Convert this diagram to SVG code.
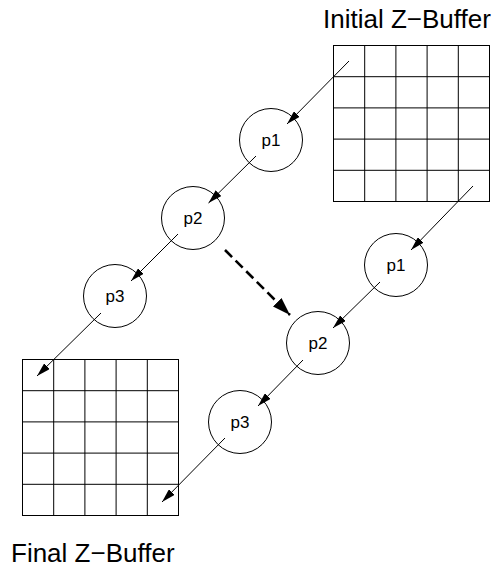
<svg xmlns="http://www.w3.org/2000/svg" width="498" height="569" viewBox="0 0 498 569">
<style>
.bg{fill:#ffffff}
.grid{fill:none;stroke:#000;stroke-width:1}
.node circle{fill:none;stroke:#000;stroke-width:1}
.node text{font-family:"Liberation Sans",Arial,sans-serif;font-size:17px;fill:#000;text-anchor:middle}
.title{font-family:"Liberation Sans",Arial,sans-serif;font-size:26px;fill:#000}
.edge{fill:none;stroke:#000;stroke-width:1;marker-end:url(#ah)}
.dashed{fill:none;stroke:#000;stroke-width:2.6;stroke-dasharray:10 5;marker-end:url(#ahb)}
</style>
<defs>
<marker id="ah" markerUnits="userSpaceOnUse" markerWidth="14" markerHeight="8" refX="14" refY="4" orient="auto" viewBox="0 0 14 8"><path d="M0,0 L14,4 L0,8 z" fill="#000"/></marker>
<marker id="ahb" markerUnits="userSpaceOnUse" markerWidth="18" markerHeight="12" refX="18" refY="6" orient="auto" viewBox="0 0 18 12"><path d="M0,0 L18,6 L0,12 z" fill="#000"/></marker>
<g id="gridcells">
<rect x="0" y="0" width="156" height="156"/>
<path d="M31.2,0V156M62.4,0V156M93.6,0V156M124.8,0V156M0,31.2H156M0,62.4H156M0,93.6H156M0,124.8H156"/>
</g>
</defs>
<rect class="bg" x="0" y="0" width="498" height="569"/>
<g id="initial-zbuffer">
<use href="#gridcells" class="grid" x="333.5" y="45.5"/>
<text class="title" x="323" y="28">Initial Z−Buffer</text>
</g>
<g id="final-zbuffer">
<use href="#gridcells" class="grid" x="22.5" y="359.5"/>
<text class="title" x="11" y="562">Final Z−Buffer</text>
</g>
<g id="left-p1" class="node"><circle cx="271" cy="140" r="31.5"/><text x="271" y="145.5">p1</text></g>
<g id="left-p2" class="node"><circle cx="193" cy="218" r="31.5"/><text x="193" y="223.5">p2</text></g>
<g id="left-p3" class="node"><circle cx="115" cy="296" r="31.5"/><text x="115" y="301.5">p3</text></g>
<g id="right-p1" class="node"><circle cx="396" cy="265" r="31.5"/><text x="396" y="270.5">p1</text></g>
<g id="right-p2" class="node"><circle cx="318" cy="343" r="31.5"/><text x="318" y="348.5">p2</text></g>
<g id="right-p3" class="node"><circle cx="240" cy="422" r="31.5"/><text x="240" y="427.5">p3</text></g>
<g id="connectors">
<path class="edge" d="M349,61L287,124"/>
<path class="edge" d="M256,156L208.5,203"/>
<path class="edge" d="M178,234L131,281"/>
<path class="edge" d="M101,313L37,376"/>
<path class="edge" d="M473,186L411,250"/>
<path class="edge" d="M380,282L333,328"/>
<path class="edge" d="M303,360L258,406"/>
<path class="edge" d="M225,438L162,502"/>
<path class="dashed" d="M225,250L290,315"/>
</g>
</svg>
